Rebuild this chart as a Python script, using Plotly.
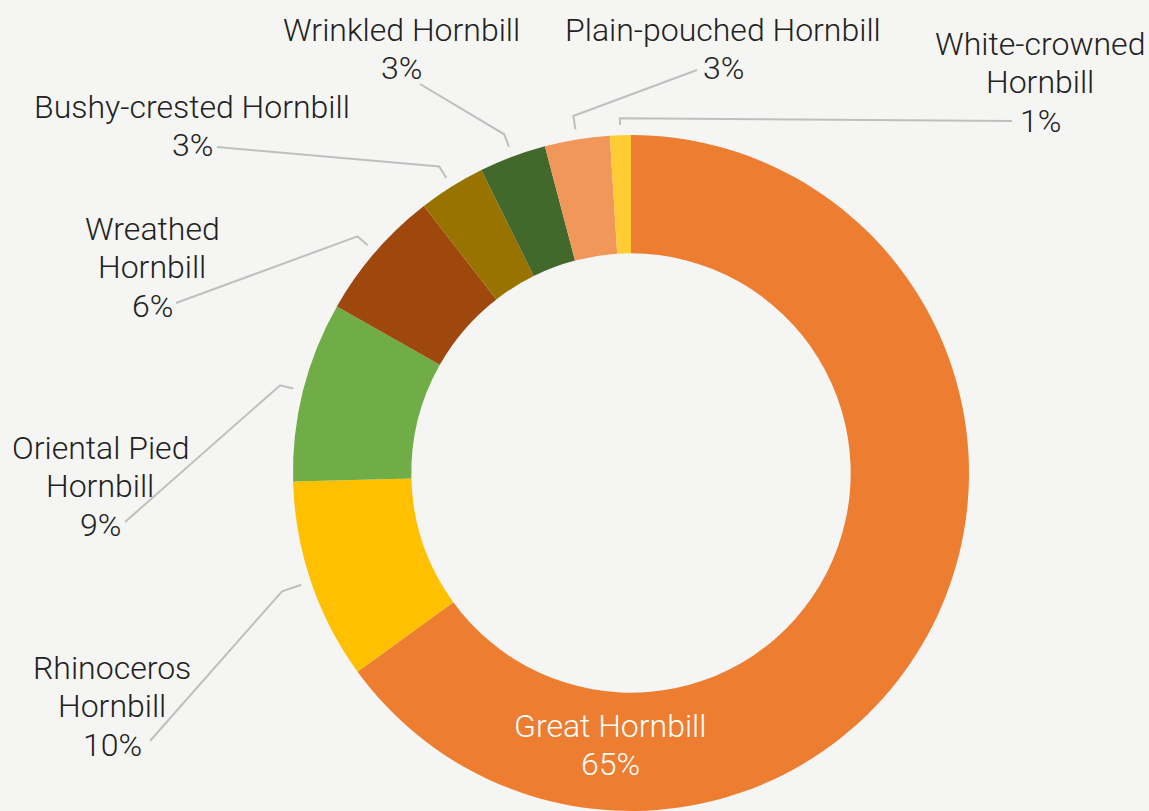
import math
import plotly.graph_objects as go

# ---- data ----
species = ["Great Hornbill", "Rhinoceros Hornbill", "Oriental Pied Hornbill", "Wreathed Hornbill",
           "Bushy-crested Hornbill", "Wrinkled Hornbill", "Plain-pouched Hornbill", "White-crowned Hornbill"]
shares = [65.0, 9.6, 8.6, 6.3, 3.2, 3.2, 3.1, 1.0]
display_lines = [["Great Hornbill"], ["Rhinoceros", "Hornbill"], ["Oriental Pied", "Hornbill"],
                 ["Wreathed", "Hornbill"], ["Bushy-crested Hornbill"], ["Wrinkled Hornbill"],
                 ["Plain-pouched Hornbill"], ["White-crowned", "Hornbill"]]
colors = ["#ED7D31", "#FFC000", "#70AD47", "#9E480E", "#997300", "#43682B", "#F1975A", "#FFCD33"]

# ---- layout (pixels) ----
W, H = 1149, 811
CX, R = 631, 338
CY = H - R
HOLE = 0.65
FONT_SIZE = 32
LINE_GAP = 38.5
# label block centres and leader-line anchor points (pixel positions, layout only)
label_pos = [(610, 745), (112, 706), (100, 486), (152, 267), (192, 126), (401, 49), (723, 49), (1040, 82)]
line_anchor = [None, (150, 741), (125, 522), (176, 303), (217, 147), (420, 84), (697, 70), (1012, 121)]
elbow_r = [None, 1.09, 1.07, 1.07, 1.07, 1.07, 1.07, 1.05]
TEXT = "#222222"
LINE = "#BFBFBF"
FONT = "Roboto"


def px(x):
    return x / W


def py(y):
    return 1 - y / H


fig = go.Figure(go.Pie(
    labels=species, values=shares, sort=False, direction="clockwise", rotation=0,
    hole=HOLE, textinfo="none", hoverinfo="label+percent",
    marker=dict(colors=colors, line=dict(width=0)),
    domain=dict(x=[px(CX - R), px(CX + R)], y=[0, 2 * R / H]),
    showlegend=False,
))

total = sum(shares)
cum = 0.0
annotations = []
shapes = []
for i, (lines, v) in enumerate(zip(display_lines, shares)):
    pct = round(100 * v / total)
    mid = (cum + v / 2) / total * 2 * math.pi
    cum += v
    lx, ly = label_pos[i]
    color = "white" if i == 0 else TEXT
    all_lines = lines + [f"{pct}%"]
    n = len(all_lines)
    for k, t in enumerate(all_lines):
        yk = ly + (k - (n - 1) / 2) * LINE_GAP
        annotations.append(dict(
            x=px(lx), y=py(yk), xref="paper", yref="paper", showarrow=False,
            text=t, align="center", xanchor="center", yanchor="middle",
            font=dict(family=FONT, size=FONT_SIZE, color=color, weight=300),
        ))
    if line_anchor[i] is not None:
        ax, ay = line_anchor[i]
        ex, ey = CX + R * 1.03 * math.sin(mid), CY - R * 1.03 * math.cos(mid)
        er = elbow_r[i]
        bx, by = CX + R * er * math.sin(mid), CY - R * er * math.cos(mid)
        path = f"M {px(ax)},{py(ay)} L {px(bx)},{py(by)} L {px(ex)},{py(ey)}"
        shapes.append(dict(type="path", path=path, xref="paper", yref="paper",
                           line=dict(color=LINE, width=2)))

fig.update_layout(
    width=W, height=H, margin=dict(l=0, r=0, t=0, b=0),
    paper_bgcolor="#F5F5F3", plot_bgcolor="#F5F5F3",
    annotations=annotations, shapes=shapes,
    font=dict(family=FONT, color=TEXT),
)

fig.write_html("out.html", config={"displayModeBar": False},
               post_script="document.body.style.margin='0';document.body.style.overflow='hidden';")
